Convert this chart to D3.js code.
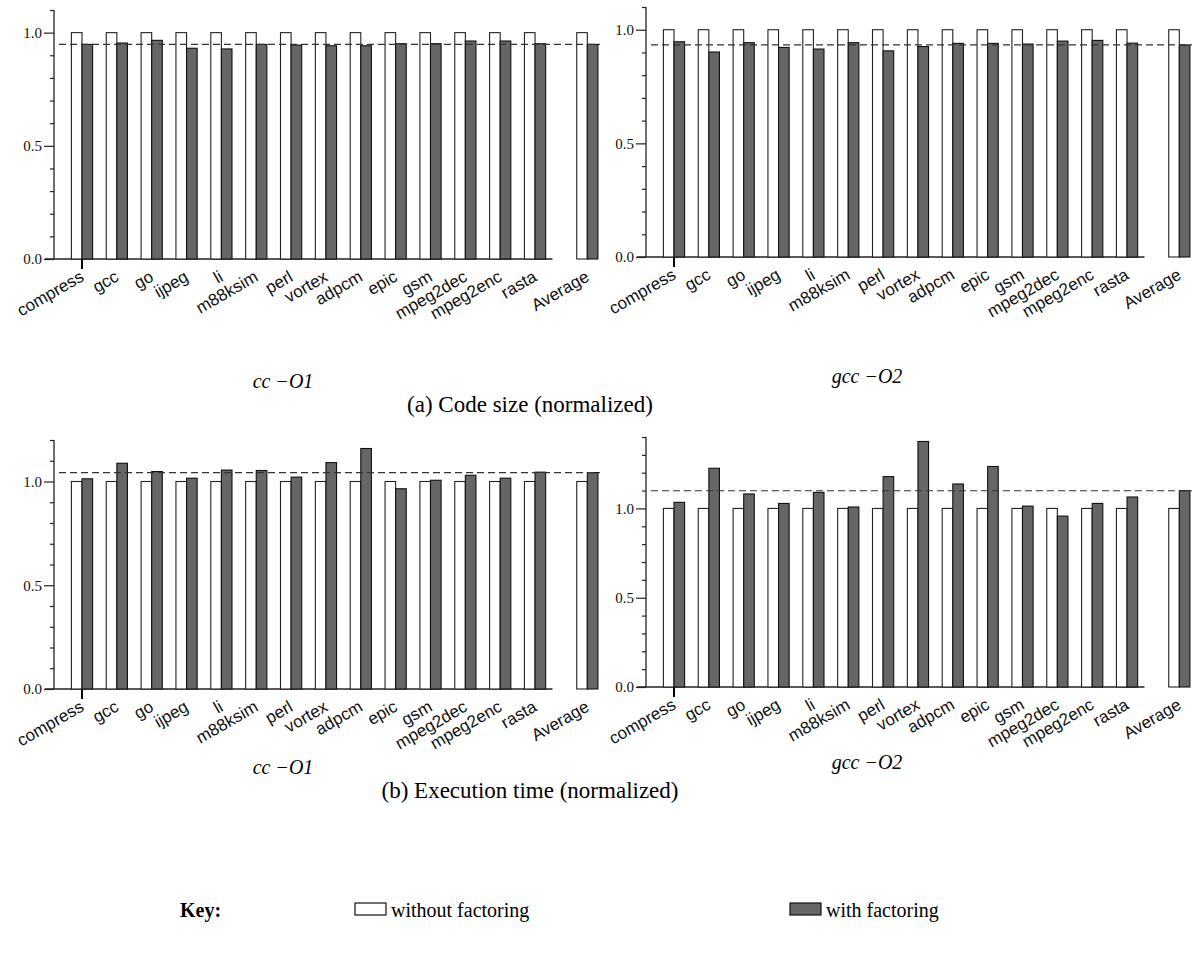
<!DOCTYPE html>
<html>
<head>
<meta charset="utf-8">
<script src="https://cdn.jsdelivr.net/npm/d3@7"></script>
<style>
  html, body { margin: 0; padding: 0; background: #fff; }
  svg { display: block; }
</style>
</head>
<body>
<svg id="fig" width="1194" height="953"></svg>
<script>
// Benchmarks (Average is drawn apart from the rest)
const benchmarks = ["compress", "gcc", "go", "ijpeg", "li", "m88ksim", "perl",
  "vortex", "adpcm", "epic", "gsm", "mpeg2dec", "mpeg2enc", "rasta"];
const averageLabel = "Average";

// Baseline (without factoring) is 1.0 everywhere after normalization
const withoutFactoring = [1, 1, 1, 1, 1, 1, 1, 1, 1, 1, 1, 1, 1, 1];

// With factoring, normalized; last value of each list is the Average bar
const codeSizeCC  = [0.948, 0.954, 0.966, 0.931, 0.928, 0.948, 0.945,
  0.942, 0.942, 0.951, 0.951, 0.963, 0.963, 0.951, 0.948];
const codeSizeGCC = [0.947, 0.902, 0.943, 0.922, 0.915, 0.943, 0.907,
  0.926, 0.940, 0.940, 0.937, 0.950, 0.953, 0.941, 0.933];
const execTimeCC  = [1.013, 1.088, 1.048, 1.016, 1.055, 1.053, 1.021,
  1.091, 1.159, 0.965, 1.006, 1.030, 1.016, 1.045, 1.043];
const execTimeGCC = [1.034, 1.225, 1.081, 1.028, 1.090, 1.008, 1.178,
  1.375, 1.137, 1.235, 1.013, 0.957, 1.028, 1.064, 1.099];

const yTickLabels = ["0.0", "0.5", "1.0"];
const compilerLabels = ["cc \u2212O1", "gcc \u2212O2"];
const captions = ["(a) Code size (normalized)", "(b) Execution time (normalized)"];
const legendLabels = ["without factoring", "with factoring"];

const svg = d3.select("#fig");
const DARK = "#666666";
const serif = "'Liberation Serif', 'Times New Roman', serif";

// Panel layout: origin of the y axis, top of the axis, and the y extent
const panels = [
  { values: codeSizeCC,  axisX: 54,  y0: 259, yTop: 10,  yMax: 1.1 },
  { values: codeSizeGCC, axisX: 646, y0: 257, yTop: 7,   yMax: 1.1 },
  { values: execTimeCC,  axisX: 54,  y0: 689, yTop: 440, yMax: 1.2 },
  { values: execTimeGCC, axisX: 646, y0: 687, yTop: 437, yMax: 1.4 }
];

const AVG_POS = 14.5;      // slot of the Average group on the index scale
const BAR_W = 10.6;

panels.forEach(p => {
  const g = svg.append("g");
  const y = d3.scaleLinear().domain([0, p.yMax]).range([p.y0, p.yTop]);
  const x = d3.scaleLinear().domain([0, AVG_POS])
    .range([p.axisX + 28, p.axisX + 28 + AVG_POS * 34.85]);
  const step = x(1) - x(0);

  // y axis: major ticks at 0.5, minor ticks every 0.1
  const minor = d3.range(0, p.yMax + 1e-9, 0.1).map(v => +v.toFixed(1));
  const majorVals = yTickLabels.map(Number);
  const axMinor = d3.axisLeft(y).tickValues(minor.filter(v => !majorVals.includes(v)))
    .tickSize(4).tickFormat("");
  const axMajor = d3.axisLeft(y).tickValues(majorVals).tickSize(10).tickPadding(2)
    .tickFormat(d3.format(".1f"));
  const gm = g.append("g").attr("transform", `translate(${p.axisX},0)`).call(axMinor);
  const gM = g.append("g").attr("transform", `translate(${p.axisX},0)`).call(axMajor);
  [gm, gM].forEach(a => {
    a.select(".domain").remove();
    a.selectAll("line").attr("stroke", "#222").attr("stroke-width", 1.2);
  });
  gM.attr("font-size", 15).attr("font-family", serif);
  gM.selectAll("text").attr("fill", "#111");
  g.append("line").attr("x1", p.axisX).attr("x2", p.axisX)
    .attr("y1", y(0)).attr("y2", y(p.yMax))
    .attr("stroke", "#222").attr("stroke-width", 1.3);

  // x baseline under the benchmarks, with one tick at the first group
  g.append("line").attr("x1", p.axisX - 9).attr("x2", x(13) + step / 2)
    .attr("y1", y(0)).attr("y2", y(0)).attr("stroke", "#222").attr("stroke-width", 1.3);
  g.append("line").attr("x1", x(0)).attr("x2", x(0))
    .attr("y1", y(0)).attr("y2", y(0) + 10).attr("stroke", "#000").attr("stroke-width", 2);

  const groups = benchmarks.map((b, i) => ({ label: b, pos: i, base: withoutFactoring[i], val: p.values[i] }));
  groups.push({ label: averageLabel, pos: AVG_POS, base: 1, val: p.values[p.values.length - 1] });

  // bars
  g.selectAll("rect.base").data(groups).join("rect")
    .attr("x", d => x(d.pos) - BAR_W).attr("width", BAR_W)
    .attr("y", d => y(d.base)).attr("height", d => y(0) - y(d.base))
    .attr("fill", "#fff").attr("stroke", "#222").attr("stroke-width", 1.1);
  g.selectAll("rect.fact").data(groups).join("rect")
    .attr("x", d => x(d.pos)).attr("width", BAR_W)
    .attr("y", d => y(d.val)).attr("height", d => y(0) - y(d.val))
    .attr("fill", DARK).attr("stroke", "#111").attr("stroke-width", 1.1);

  // average line
  const avg = p.values[p.values.length - 1];
  g.append("line").attr("x1", p.axisX + 5).attr("x2", x(AVG_POS) + BAR_W + 2)
    .attr("y1", y(avg)).attr("y2", y(avg))
    .attr("stroke", "#333").attr("stroke-width", 1.2).attr("stroke-dasharray", "7,4");

  // rotated category labels
  g.selectAll("text.cat").data(groups).join("text")
    .attr("transform", d => `translate(${x(d.pos) + 3},${y(0) + 21}) rotate(-30)`)
    .attr("text-anchor", "end")
    .attr("font-family", "'Liberation Sans', Arial, sans-serif")
    .attr("font-size", 17).attr("fill", "#111")
    .text(d => d.label);
});

// compiler names and captions
[388, 774].forEach((yy, k) => {
  svg.append("text").attr("x", 283).attr("y", yy).attr("text-anchor", "middle")
    .attr("font-family", serif).attr("font-style", "italic").attr("font-size", 20)
    .text(compilerLabels[0]);
  svg.append("text").attr("x", 867).attr("y", yy - 5).attr("text-anchor", "middle")
    .attr("font-family", serif).attr("font-style", "italic").attr("font-size", 20)
    .text(compilerLabels[1]);
  svg.append("text").attr("x", 530).attr("y", yy + 24).attr("text-anchor", "middle")
    .attr("font-family", serif).attr("font-size", 23)
    .text(captions[k]);
});

// key
const key = svg.append("g").attr("font-family", serif).attr("font-size", 20);
key.append("text").attr("x", 180).attr("y", 917).attr("font-weight", "bold").text("Key:");
key.append("rect").attr("x", 355).attr("y", 903).attr("width", 31).attr("height", 12)
  .attr("fill", "#fff").attr("stroke", "#111").attr("stroke-width", 1.2);
key.append("text").attr("x", 391).attr("y", 917).text(legendLabels[0]);
key.append("rect").attr("x", 790).attr("y", 903).attr("width", 31).attr("height", 12)
  .attr("fill", DARK).attr("stroke", "#111").attr("stroke-width", 1.2);
key.append("text").attr("x", 826).attr("y", 917).text(legendLabels[1]);
</script>
</body>
</html>
